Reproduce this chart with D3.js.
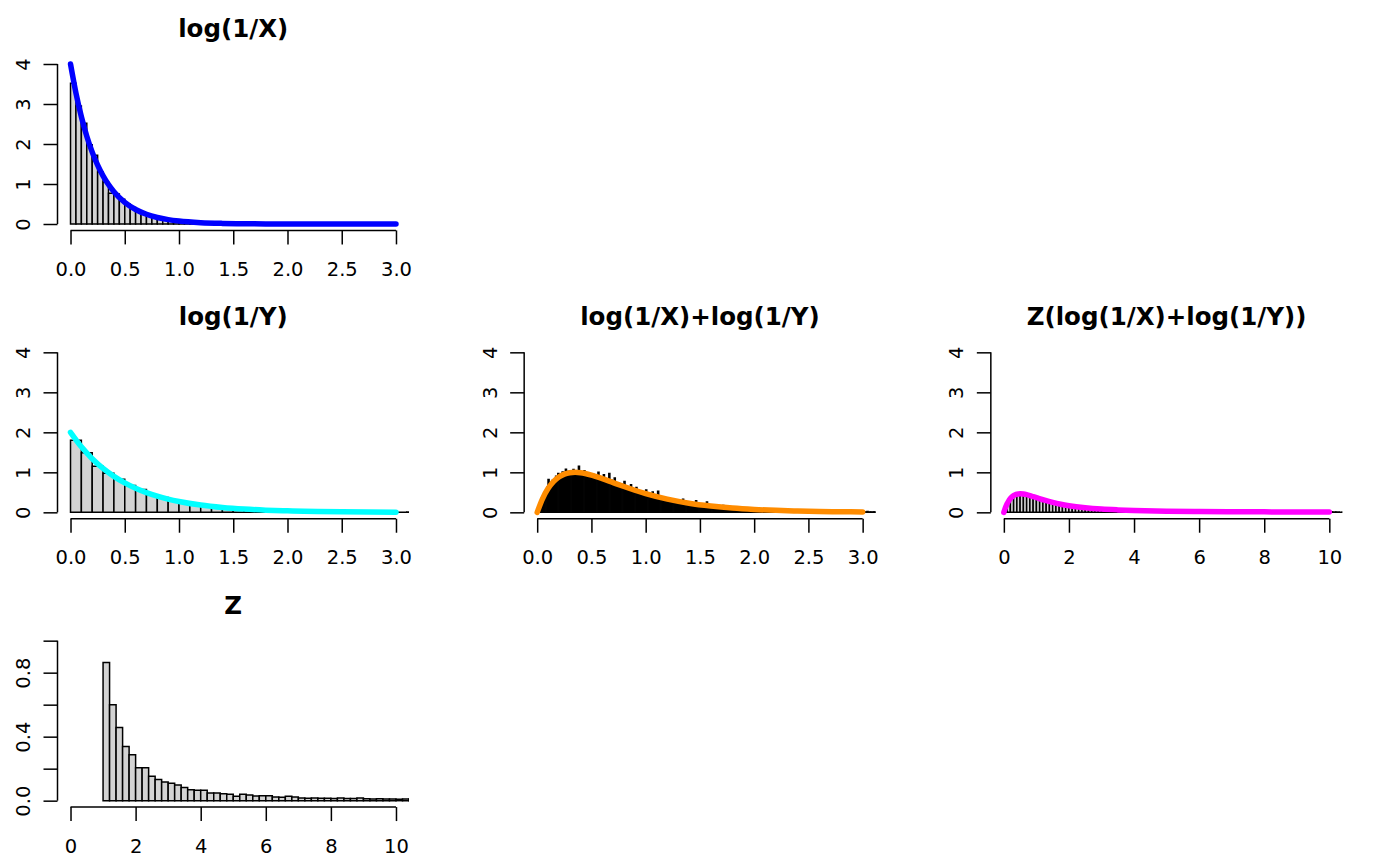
<!DOCTYPE html>
<html><head><meta charset="utf-8">
<script src="https://cdn.jsdelivr.net/npm/d3@7/dist/d3.min.js"></script>
<style>body{margin:0;background:#fff}svg{display:block}</style>
</head><body>
<svg id="chart" width="1400" height="865"></svg>
<script>
// ---------- DATA ----------
const panelTitles = ["log(1/X)", "log(1/Y)", "log(1/X)+log(1/Y)", "Z(log(1/X)+log(1/Y))", "Z"];

// histogram densities (bin start, bin width, density per bin)
const histXStart = 0, histXWidth = 0.05;
const histXDens = [3.52,2.95,2.52,1.98,1.72,1.30,1.05,0.77,0.75,0.62,0.50,0.41,0.33,0.28,0.21,0.19,0.14,0.12,0.10,0.08,
  0.07,0.05,0.04,0.04,0.03,0.02,0.02,0.02,0.01,0.01,0.01,0.01,0.00,0.01,0.00,0.00,0.01];

const histYStart = 0, histYWidth = 0.1;
const histYDens = [1.80,1.49,1.15,0.98,0.83,0.67,0.57,0.43,0.37,0.31,0.25,0.19,0.16,0.14,0.10,0.09,0.08,0.06,0.05,0.04,
  0.03,0.03,0.02,0.02,0.01,0.01,0.01,0.01,0.00,0.01,0.00,0.01,0.00,0.00,0.00,0.01];

const histXYStart = 0, histXYWidth = 0.01;
const histXYDens = [
  0.05,0.09,0.22,0.24,0.36,0.33,0.44,0.51,0.46,0.63,
  0.82,0.63,0.74,0.69,0.80,0.76,0.79,0.90,0.83,0.97,
  0.86,0.95,0.91,1.01,0.92,0.98,1.08,0.94,1.02,0.96,
  1.04,0.93,1.00,1.07,0.95,0.98,1.03,0.92,1.15,0.97,
  0.94,1.01,0.90,1.04,0.96,0.89,0.99,0.92,0.97,0.88,
  0.90,0.95,0.86,0.93,0.88,0.84,1.00,0.83,0.87,0.81,
  0.80,0.94,0.77,0.83,0.75,0.79,0.97,0.74,0.80,0.71,
  0.70,0.86,0.69,0.73,0.66,0.72,0.64,0.70,0.62,0.67,
  0.77,0.60,0.64,0.57,0.61,0.55,0.69,0.58,0.52,0.57,
  0.51,0.62,0.50,0.55,0.48,0.53,0.46,0.50,0.44,0.49,
  0.56,0.43,0.47,0.41,0.45,0.40,0.51,0.39,0.42,0.37,
  0.36,0.53,0.35,0.39,0.33,0.37,0.31,0.36,0.32,0.30,
  0.31,0.34,0.29,0.33,0.28,0.32,0.27,0.30,0.26,0.29,
  0.25,0.28,0.24,0.27,0.33,0.23,0.26,0.22,0.25,0.21,
  0.23,0.20,0.22,0.19,0.21,0.18,0.29,0.19,0.17,0.20,
  0.18,0.16,0.19,0.17,0.15,0.18,0.26,0.16,0.14,0.17,
  0.14,0.17,0.13,0.15,0.16,0.12,0.14,0.15,0.11,0.13,
  0.12,0.17,0.11,0.13,0.10,0.12,0.15,0.09,0.11,0.12,
  0.10,0.08,0.11,0.09,0.12,0.08,0.10,0.07,0.09,0.11,
  0.08,0.10,0.07,0.09,0.06,0.08,0.07,0.09,0.06,0.08,
  0.07,0.05,0.08,0.06,0.07,0.05,0.06,0.08,0.05,0.06,
  0.06,0.05,0.04,0.07,0.05,0.06,0.04,0.05,0.06,0.04,
  0.05,0.04,0.03,0.05,0.04,0.06,0.03,0.04,0.05,0.03,
  0.04,0.03,0.05,0.02,0.04,0.03,0.04,0.02,0.03,0.04,
  0.03,0.02,0.04,0.03,0.02,0.03,0.04,0.02,0.03,0.02,
  0.02,0.03,0.02,0.01,0.03,0.02,0.03,0.02,0.01,0.03,
  0.02,0.01,0.03,0.02,0.02,0.01,0.02,0.03,0.01,0.02,
  0.01,0.02,0.02,0.01,0.02,0.01,0.03,0.01,0.02,0.01,
  0.02,0.01,0.01,0.02,0.00,0.01,0.02,0.01,0.01,0.02,
  0.01,0.01,0.00,0.02,0.01,0.01,0.00,0.01,0.02,0.01,
  0.01,0.00,0.01,0.01,0.02,0.00,0.01,0.01,0.00,0.01,
  0.01,0.01,0.00,0.01,0.00,0.01,0.01,0.00,0.01,0.00];

const histZWStart = 0, histZWWidth = 0.1;
const histZWDens = [
  0.11,0.29,0.38,0.43,0.46,0.45,0.46,0.42,0.41,0.37,
  0.35,0.33,0.30,0.28,0.25,0.24,0.21,0.20,0.18,0.17,
  0.16,0.14,0.13,0.13,0.11,0.11,0.10,0.09,0.09,0.08,
  0.08,0.07,0.07,0.06,0.06,0.06,0.05,0.05,0.05,0.05,
  0.04,0.04,0.04,0.04,0.04,0.03,0.03,0.03,0.03,0.03,
  0.03,0.03,0.03,0.02,0.03,0.02,0.02,0.02,0.02,0.02,
  0.02,0.02,0.02,0.02,0.02,0.02,0.02,0.01,0.02,0.02,
  0.01,0.02,0.01,0.01,0.02,0.01,0.01,0.01,0.01,0.01,
  0.01,0.01,0.01,0.01,0.01,0.01,0.01,0.01,0.01,0.01,
  0.01,0.01,0.01,0.00,0.01,0.01,0.01,0.01,0.00,0.01,
  0.01,0.01,0.01,0.00,0.01];

const histZStart = 1, histZWidth = 0.2;
const histZDens = [0.863,0.600,0.457,0.338,0.287,0.205,0.205,0.153,0.132,0.117,0.109,0.098,0.082,0.069,0.065,0.065,
  0.048,0.048,0.044,0.040,0.027,0.040,0.036,0.029,0.031,0.031,0.023,0.021,0.027,0.023,0.017,0.015,0.017,0.015,
  0.015,0.014,0.016,0.013,0.013,0.017,0.012,0.011,0.012,0.010,0.011,0.009,0.010,0.010];

// density curves (x, value)
const curveXx = [0,0.05,0.1,0.15,0.2,0.25,0.3,0.35,0.4,0.5,0.6,0.7,0.8,0.9,1.0,1.2,1.4,1.6,1.8,2.0,2.5,3.0];
const curveXy = [4,3.275,2.681,2.195,1.797,1.472,1.205,0.986,0.808,0.541,0.363,0.243,0.163,0.109,0.073,0.033,0.015,0.007,0.003,0.001,0.0002,0];

const curveYx = [0,0.1,0.2,0.3,0.4,0.5,0.6,0.7,0.8,0.9,1.0,1.2,1.4,1.6,1.8,2.0,2.5,3.0];
const curveYy = [2,1.637,1.341,1.098,0.899,0.736,0.602,0.493,0.404,0.331,0.271,0.181,0.122,0.082,0.055,0.037,0.013,0.005];

const curveXYx = [0,0.05,0.1,0.15,0.2,0.25,0.3,0.35,0.4,0.5,0.6,0.7,0.8,0.9,1.0,1.2,1.4,1.6,1.8,2.0,2.2,2.4,2.6,2.8,3.0];
const curveXYy = [0,0.344,0.594,0.768,0.884,0.955,0.990,1.000,0.990,0.930,0.842,0.743,0.645,0.552,0.468,0.330,0.228,0.157,0.106,0.072,0.049,0.033,0.022,0.015,0.010];

const curveZWx = [0,0.05,0.1,0.15,0.2,0.25,0.3,0.35,0.4,0.5,0.6,0.7,0.8,0.9,1.0,1.25,1.5,1.75,2,2.5,3,3.5,4,5,6,7,8,9,10];
const curveZWy = [0,0.119,0.214,0.287,0.345,0.387,0.417,0.439,0.453,0.463,0.457,0.441,0.419,0.393,0.367,0.303,0.247,0.201,0.165,0.114,0.081,0.061,0.047,0.030,0.021,0.015,0.012,0.009,0.0075];

// axis ticks
const ticksX3 = [0,0.5,1,1.5,2,2.5,3];
const ticksX10 = [0,2,4,6,8,10];
const ticksY4 = [0,1,2,3,4];
const ticksYZ = [0,0.2,0.4,0.6,0.8,1.0];
const labelsYZ = ["0.0","","0.4","","0.8",""];

// ---------- LAYOUT ----------
const W = 1400/3, H = 865/3;
const ML = 57.5, PW = 351.5, MT = 57.6, PH = 172.8;
const tickFont = 19.5, titleFont = 24.5;
const fmt1 = d3.format(".1f"), fmt0 = d3.format("d");

const panels = [
  {row:0,col:0,title:panelTitles[0],xlim:[0,3],ylim:[0,4],xt:ticksX3,xf:fmt1,yt:ticksY4,yl:ticksY4.map(String),
   hs:histXStart,hw:histXWidth,hd:histXDens,cx:curveXx,cy:curveXy,color:"#0000FF"},
  {row:1,col:0,title:panelTitles[1],xlim:[0,3],ylim:[0,4],xt:ticksX3,xf:fmt1,yt:ticksY4,yl:ticksY4.map(String),
   hs:histYStart,hw:histYWidth,hd:histYDens,cx:curveYx,cy:curveYy,color:"#00FFFF"},
  {row:1,col:1,title:panelTitles[2],xlim:[0,3],ylim:[0,4],xt:ticksX3,xf:fmt1,yt:ticksY4,yl:ticksY4.map(String),
   hs:histXYStart,hw:histXYWidth,hd:histXYDens,cx:curveXYx,cy:curveXYy,color:"#FF8C00"},
  {row:1,col:2,title:panelTitles[3],xlim:[0,10],ylim:[0,4],xt:ticksX10,xf:fmt0,yt:ticksY4,yl:ticksY4.map(String),
   hs:histZWStart,hw:histZWWidth,hd:histZWDens,cx:curveZWx,cy:curveZWy,color:"#FF00FF"},
  {row:2,col:0,title:panelTitles[4],xlim:[0,10],ylim:[0,1],xt:ticksX10,xf:fmt0,yt:ticksYZ,yl:labelsYZ,
   hs:histZStart,hw:histZWidth,hd:histZDens,cx:null,cy:null,color:null}
];

const svg = d3.select("#chart");
svg.append("rect").attr("width",1400).attr("height",865).attr("fill","#fff");
const defs = svg.append("defs");
const FONT = "'DejaVu Sans', sans-serif";

panels.forEach((p, i) => {
  const left = p.col*W + ML, top = p.row*H + MT;
  const xs = p.xlim[1]-p.xlim[0], ys = p.ylim[1]-p.ylim[0];
  const x = d3.scaleLinear().domain([p.xlim[0]-0.04*xs, p.xlim[1]+0.04*xs]).range([left, left+PW]);
  const y = d3.scaleLinear().domain([p.ylim[0]-0.04*ys, p.ylim[1]+0.04*ys]).range([top+PH, top]);

  defs.append("clipPath").attr("id","clip"+i).append("rect")
    .attr("x",left).attr("y",top).attr("width",PW).attr("height",PH);

  const g = svg.append("g");

  // histogram
  g.append("g").attr("clip-path",`url(#clip${i})`)
    .selectAll("path").data(p.hd).join("path")
    .attr("d",(d,j)=>{
      const x0 = x(p.hs + j*p.hw), x1 = x(p.hs + (j+1)*p.hw), y0 = y(0), y1 = y(d);
      return `M${x0},${y0}H${x1}V${y1}H${x0}Z`;
    })
    .attr("fill","#D3D3D3").attr("stroke","#000").attr("stroke-width",1.5);

  // density curve
  if (p.cx) {
    const pts = p.cx.map((v,k)=>[v,p.cy[k]]);
    g.append("path").datum(pts)
      .attr("d", d3.line().x(d=>x(d[0])).y(d=>y(d[1])).curve(d3.curveMonotoneX))
      .attr("fill","none").attr("stroke",p.color).attr("stroke-width",5.5)
      .attr("stroke-linecap","round").attr("stroke-linejoin","round");
  }

  // x axis
  const xa = g.append("g").attr("transform",`translate(0,${top+PH})`)
    .call(d3.axisBottom(x).tickValues(p.xt).tickFormat(p.xf).tickSize(14).tickSizeOuter(0));
  xa.select(".domain").remove();
  xa.append("line").attr("x1",x(p.xt[0])).attr("x2",x(p.xt[p.xt.length-1]))
    .attr("stroke","#000").attr("stroke-width",1.5);
  xa.selectAll(".tick line").attr("stroke","#000").attr("stroke-width",1.5);
  xa.selectAll(".tick text").attr("y",45.5).attr("dy",0)
    .attr("font-family",FONT).attr("font-size",tickFont).attr("fill","#000");

  // y axis
  const ya = g.append("g").attr("transform",`translate(${left},0)`)
    .call(d3.axisLeft(y).tickValues(p.yt).tickFormat((d,k)=>p.yl[k]).tickSize(14).tickSizeOuter(0));
  ya.select(".domain").remove();
  ya.append("line").attr("y1",y(p.yt[0])).attr("y2",y(p.yt[p.yt.length-1]))
    .attr("stroke","#000").attr("stroke-width",1.5);
  ya.selectAll(".tick line").attr("stroke","#000").attr("stroke-width",1.5);
  ya.selectAll(".tick text")
    .attr("x",0).attr("y",-27.5).attr("dy",0).attr("dx",0)
    .attr("transform","rotate(-90)").attr("text-anchor","middle")
    .attr("font-family",FONT).attr("font-size",tickFont).attr("fill","#000");

  // title
  g.append("text").attr("x",left+PW/2).attr("y",p.row*H+37)
    .attr("text-anchor","middle").attr("font-family",FONT).attr("font-weight","bold")
    .attr("font-size",titleFont).attr("fill","#000").text(p.title);
});
</script>
</body></html>
